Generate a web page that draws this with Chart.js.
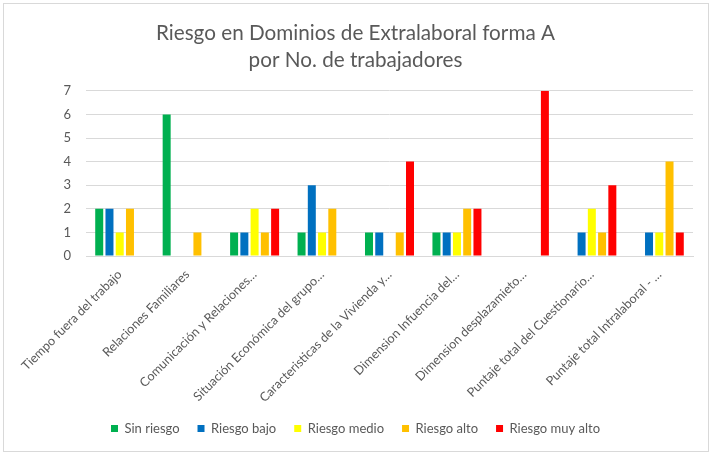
<!DOCTYPE html>
<html>
<head>
<meta charset="utf-8">
<script src="https://cdn.jsdelivr.net/npm/chart.js@4/dist/chart.umd.min.js"></script>
<style>
  html, body { margin: 0; padding: 0; background: #fff; }
  #frame {
    position: absolute; left: 3px; top: 3px;
    width: 704px; height: 447px;
    border: 1px solid #d9d9d9; box-sizing: content-box;
  }
  #frame canvas { display: block; }
</style>
</head>
<body>
<div id="frame"><canvas id="chart" width="704" height="447"></canvas></div>
<script>
// Categories (labels truncated as in the original)
const categories = [
  'Tiempo fuera del trabajo',
  'Relaciones Familiares',
  'Comunicación y Relaciones…',
  'Situación Económica del grupo…',
  'Caracteristicas de la Vivienda y…',
  'Dimension Infuencia del…',
  'Dimension desplazamieto…',
  'Puntaje total del Cuestionario…',
  'Puntaje total Intralaboral - …'
];

// Series values (number of workers)
const sinRiesgo      = [2, 6, 1, 1, 1, 1, 0, 0, 0];
const riesgoBajo     = [2, 0, 1, 3, 1, 1, 0, 1, 1];
const riesgoMedio    = [1, 0, 2, 1, 0, 1, 0, 2, 1];
const riesgoAlto     = [2, 1, 1, 2, 1, 2, 0, 1, 4];
const riesgoMuyAlto  = [0, 0, 2, 0, 4, 2, 7, 3, 1];

const yTicks = [0, 1, 2, 3, 4, 5, 6, 7];

const textColor = '#595959';
const fontFamily = 'Lato, "Open Sans", sans-serif';

function series(label, data, color) {
  return {
    label: label,
    data: data,
    backgroundColor: color,
    borderWidth: 0,
    categoryPercentage: 0.76,
    barPercentage: 0.78
  };
}

new Chart(document.getElementById('chart'), {
  type: 'bar',
  data: {
    labels: categories,
    datasets: [
      series('Sin riesgo', sinRiesgo, '#00b050'),
      series('Riesgo bajo', riesgoBajo, '#0070c0'),
      series('Riesgo medio', riesgoMedio, '#ffff00'),
      series('Riesgo alto', riesgoAlto, '#ffc000'),
      series('Riesgo muy alto', riesgoMuyAlto, '#ff0000')
    ]
  },
  options: {
    responsive: false,
    animation: false,
    layout: { padding: { left: 14, right: 15, top: 6, bottom: 6 } },
    scales: {
      x: {
        grid: { display: false },
        border: { color: '#d9d9d9' },
        afterFit: (axis) => { axis.height = 148; },
        ticks: {
          color: textColor,
          font: { family: fontFamily, size: 12.6 },
          minRotation: 45,
          maxRotation: 45,
          autoSkip: false
        }
      },
      y: {
        min: 0,
        max: 7,
        border: { display: false },
        grid: { color: '#d9d9d9', drawTicks: false },
        afterFit: (axis) => { axis.width = 68; },
        afterBuildTicks: (axis) => { axis.ticks = yTicks.map(v => ({ value: v })); },
        ticks: {
          color: textColor,
          padding: 15,
          font: { family: fontFamily, size: 13 }
        }
      }
    },
    plugins: {
      title: {
        display: true,
        text: ['Riesgo en Dominios de Extralaboral forma A', 'por No. de trabajadores'],
        color: textColor,
        font: { family: fontFamily, size: 20.7, weight: 'normal', lineHeight: 1.3 },
        padding: { top: 10, bottom: 17 }
      },
      legend: {
        position: 'bottom',
        labels: {
          color: textColor,
          font: { family: fontFamily, size: 13 },
          boxWidth: 7,
          boxHeight: 7,
          padding: 18
        }
      },
      tooltip: { enabled: false }
    }
  }
});
</script>
</body>
</html>
